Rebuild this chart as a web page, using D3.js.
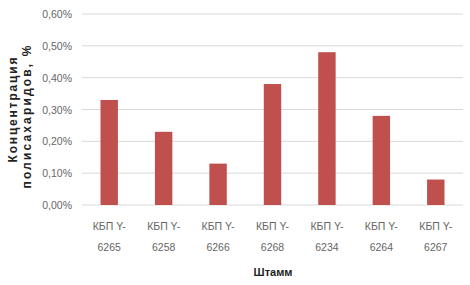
<!DOCTYPE html>
<html>
<head>
<meta charset="utf-8">
<script src="https://cdn.jsdelivr.net/npm/d3@7"></script>
<style>
  body { margin: 0; background: #fff; }
  text { font-family: "Liberation Sans", Arial, sans-serif; }
</style>
</head>
<body>
<svg id="chart" width="470" height="285"></svg>
<script>
  const strains = ['6265', '6258', '6266', '6268', '6234', '6264', '6267'];
  const values = [0.33, 0.23, 0.13, 0.38, 0.48, 0.28, 0.08];
  const ticks = [0, 0.1, 0.2, 0.3, 0.4, 0.5, 0.6];

  const svg = d3.select('#chart');
  const margin = { left: 82, right: 7, top: 14, bottom: 81 };
  const width = +svg.attr('width');
  const height = +svg.attr('height');

  const x = d3.scaleBand().domain(strains).range([margin.left, width - margin.right]).paddingInner(0.68).paddingOuter(0.34);
  const y = d3.scaleLinear().domain([0, 0.6]).range([height - margin.bottom + 1, margin.top]);

  // gridlines
  svg.append('g')
    .selectAll('line')
    .data(ticks)
    .enter()
    .append('line')
    .attr('x1', margin.left)
    .attr('x2', width - margin.right)
    .attr('y1', d => y(d))
    .attr('y2', d => y(d))
    .attr('stroke', '#d9d9d9')
    .attr('stroke-width', 1);

  // y tick labels
  svg.append('g')
    .selectAll('text')
    .data(ticks)
    .enter()
    .append('text')
    .attr('x', 72)
    .attr('y', d => y(d) + 4)
    .attr('text-anchor', 'end')
    .attr('font-size', 10.5)
    .attr('fill', '#666')
    .text(d => d3.format('.2f')(d).replace('.', ',') + '%');

  svg.append('g')
    .selectAll('rect')
    .data(values)
    .enter()
    .append('rect')
    .attr('x', (d, i) => x(strains[i]))
    .attr('width', x.bandwidth())
    .attr('y', d => y(d))
    .attr('height', d => y(0) - y(d))
    .attr('fill', '#c0504d');

  // x labels
  const xl = svg.append('g')
    .selectAll('text')
    .data(strains)
    .enter()
    .append('text')
    .attr('text-anchor', 'middle')
    .attr('font-size', 10.5)
    .attr('fill', '#666');
  xl.append('tspan')
    .attr('x', d => x(d) + x.bandwidth() / 2)
    .attr('y', 230)
    .text('КБП Y-');
  xl.append('tspan')
    .attr('x', d => x(d) + x.bandwidth() / 2)
    .attr('y', 251)
    .text(d => d);

  svg.append('text')
    .attr('x', 273)
    .attr('y', 276)
    .attr('text-anchor', 'middle')
    .attr('font-size', 11)
    .attr('font-weight', 'bold')
    .attr('fill', '#222')
    .text('Штамм');

  // y title, two lines
  const yt = svg.append('g').attr('transform', 'rotate(-90)');
  yt.append('text')
    .attr('x', -110)
    .attr('y', 17)
    .attr('text-anchor', 'middle')
    .attr('font-size', 12)
    .attr('font-weight', 'bold')
    .attr('fill', '#222')
    .attr('textLength', 105)
    .attr('lengthAdjust', 'spacing')
    .text('Концентрация');
  yt.append('text')
    .attr('x', -117)
    .attr('y', 31)
    .attr('text-anchor', 'middle')
    .attr('font-size', 12)
    .attr('font-weight', 'bold')
    .attr('fill', '#222')
    .attr('textLength', 143)
    .attr('lengthAdjust', 'spacing')
    .text('полисахаридов, %');
</script>
</body>
</html>
